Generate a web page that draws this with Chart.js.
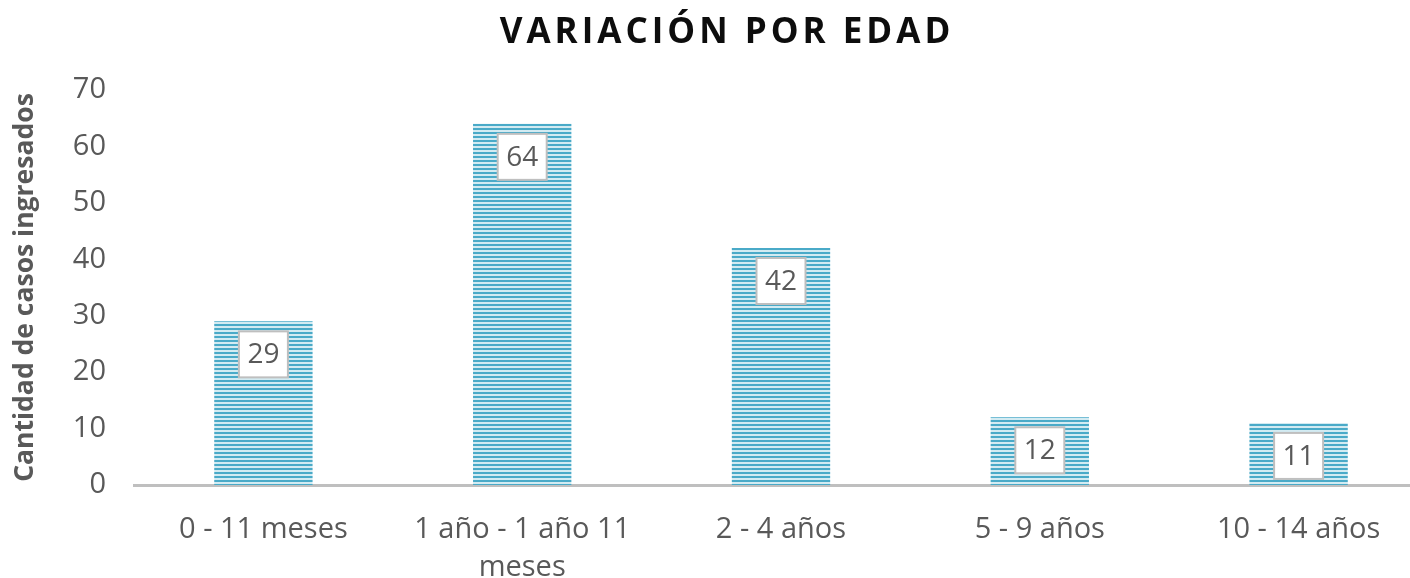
<!DOCTYPE html>
<html><head><meta charset="utf-8">
<script src="https://cdn.jsdelivr.net/npm/chart.js@4/dist/chart.umd.min.js"></script>
<style>html,body{margin:0;padding:0;background:#fff;overflow:hidden}#wrap{width:1430px;height:578px}</style>
</head><body><div id="wrap"><canvas id="c"></canvas></div>
<script>
const categories = [["0 - 11 meses"], ["1 año - 1 año 11", "meses"], ["2 - 4 años"], ["5 - 9 años"], ["10 - 14 años"]];
const values = [29, 64, 42, 12, 11];
const yTicks = [0, 10, 20, 30, 40, 50, 60, 70];
const titleText = "VARIACIÓN POR EDAD";
const yTitle = "Cantidad de casos ingresados";

function stripes() {
  const p = document.createElement('canvas');
  p.width = 4; p.height = 4;
  const g = p.getContext('2d');
  g.fillStyle = '#d3ebf2'; g.fillRect(0, 0, 4, 4);
  g.fillStyle = '#4aaac8'; g.fillRect(0, 0, 4, 2);
  return g.createPattern(p, 'repeat');
}
const pat = stripes();

const titlePlugin = {
  id: 'tt',
  afterDraw(chart) {
    const ctx = chart.ctx;
    ctx.save();
    ctx.font = 'bold 35px "Open Sans"';
    ctx.letterSpacing = '4px';
    ctx.fillStyle = '#0d0d0d';
    ctx.textAlign = 'center';
    ctx.textBaseline = 'middle';
    ctx.fillText(titleText, 727, 33);
    ctx.restore();
  }
};
const labelPlugin = {
  id: 'dl',
  afterDatasetsDraw(chart) {
    const ctx = chart.ctx;
    const meta = chart.getDatasetMeta(0);
    ctx.save();
    meta.data.forEach((el, i) => {
      const w = 49, h = 46;
      const x = el.x - w / 2, y = el.y + 10;
      ctx.fillStyle = '#fff';
      ctx.fillRect(x, y, w, h);
      ctx.strokeStyle = '#bfbfbf';
      ctx.lineWidth = 2;
      ctx.strokeRect(x, y, w, h);
      ctx.fillStyle = '#595959';
      ctx.font = '28px "Open Sans"';
      ctx.textAlign = 'center';
      ctx.textBaseline = 'middle';
      ctx.fillText(String(values[i]), el.x, y + h / 2 + 1);
    });
    ctx.restore();
  }
};

new Chart(document.getElementById('c'), {
  type: 'bar',
  data: { labels: categories, datasets: [{ data: values, backgroundColor: pat, borderWidth: 0, categoryPercentage: 1, barPercentage: 0.38 }] },
  options: {
    responsive: true, maintainAspectRatio: false, animation: false,
    layout: { padding: { top: 90, right: 2, left: 0, bottom: 0 } },
    plugins: { legend: { display: false }, tooltip: { enabled: false }, title: { display: false } },
    scales: {
      x: {
        grid: { display: false, drawTicks: false },
        border: { color: '#bfbfbf', width: 3 },
        ticks: { color: '#595959', font: { family: 'Open Sans', size: 29, lineHeight: 1.3 }, padding: 26, maxRotation: 0, autoSkip: false },
        afterFit(s) { s.height = 93; }
      },
      y: {
        min: 0, max: 70,
        grid: { display: false, drawTicks: false },
        border: { display: false },
        afterBuildTicks(s) { s.ticks = yTicks.map(v => ({ value: v })); },
        ticks: { color: '#595959', font: { family: 'Open Sans', size: 29 }, padding: 28 },
        title: { display: true, text: yTitle, color: '#595959', font: { family: 'Open Sans', size: 26.5, weight: 'bold' }, padding: { top: 10, bottom: 0 } },
        afterFit(s) { s.width = 134; }
      }
    }
  },
  plugins: [titlePlugin, labelPlugin]
});
</script></body></html>
